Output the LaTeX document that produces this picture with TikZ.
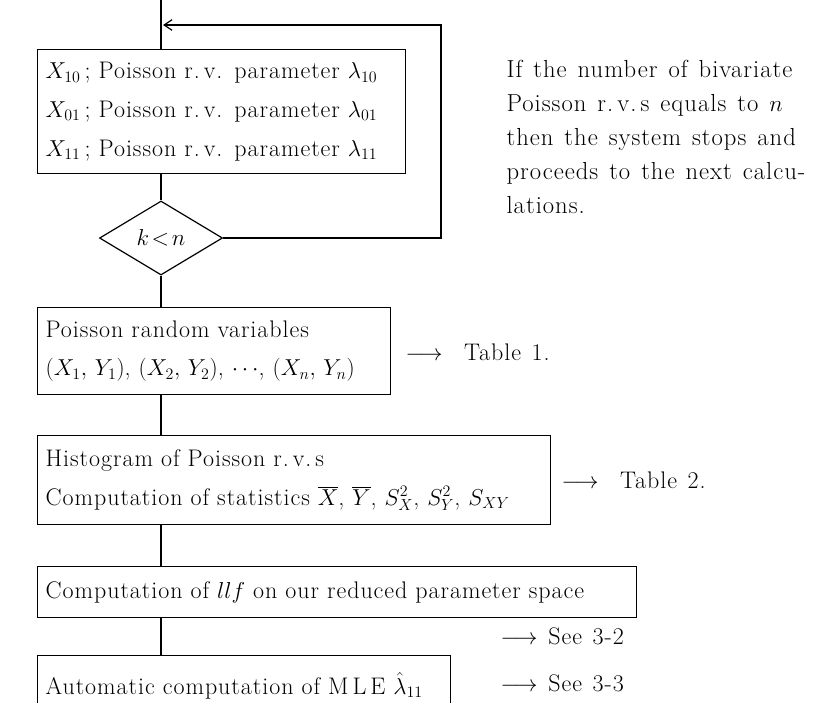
\documentclass[tikz,border=0pt]{standalone}
\usepackage{fontspec}
\setmainfont{Latin Modern Roman}[LetterSpace=4, WordSpace=1.3]
\usetikzlibrary{shapes.geometric,arrows.meta}

\tikzset{every picture/.style={line width=0.9pt}}
\tikzset{
  box/.style={draw, anchor=north west, inner xsep=6pt, inner ysep=0pt, align=left, font=\fontsize{18}{29}\selectfont},
  decide/.style={draw, diamond, minimum width=92.25pt, minimum height=55.5pt, inner sep=0pt, font=\fontsize{18}{22}\selectfont},
  note/.style={anchor=west, inner sep=0pt, font=\fontsize{18}{22}\selectfont}
}

\begin{document}
\begin{tikzpicture}[x=0.75pt,y=0.75pt,yscale=-1,xscale=1]
\useasboundingbox (0,0) rectangle (819,703);
\clip (0,0) rectangle (819,703);

%Shapes
\node [box, text width=264pt, minimum height=93pt] (gen) at (37,49) {\mbox{$X_{10}$\,; Poisson r.\,v. parameter $\lambda_{10}$}\\\mbox{$X_{01}$\,; Poisson r.\,v. parameter $\lambda_{01}$}\\\mbox{$X_{11}$\,; Poisson r.\,v. parameter $\lambda_{11}$}};
\node [decide] (test) at (161,238) {$k\!<\!n$};
\node [box, text width=252.75pt, minimum height=65.25pt] (pois) at (37,307) {\mbox{Poisson random variables}\\\mbox{$(X_1,\,Y_1)$, $(X_2,\,Y_2)$, $\cdots$, $(X_n,\,Y_n)$}};
\node [box, text width=372.75pt, minimum height=66.75pt] (hist) at (37,435) {\mbox{Histogram of Poisson r.\,v.\,s}\\\mbox{Computation of statistics $\overline{X}$, $\overline{Y}$, $S_X^2$, $S_Y^2$, $S_{XY}$}};
\node [box, text width=437.25pt, minimum height=38.25pt] (llf) at (37,566) {\mbox{Computation of $llf$ on our reduced parameter space}};
\node [box, text width=297.75pt, minimum height=45pt] (mle) at (37,655) {\mbox{Automatic computation of M\,L\,E $\hat{\lambda}_{11}$}};

% Text Node
\node [anchor=north west, inner sep=0pt, align=left, font=\fontsize{18.5}{25.5}\selectfont] (rule) at (506,60) {\mbox{If the number of bivariate}\\\mbox{Poisson r.\,v.\,s equals to $n$}\\\mbox{then the system stops and}\\\mbox{proceeds to the next calcu-}\\\mbox{lations.}};
\node [note] (tab1) at (405,352) {$\longrightarrow$\ \ Table 1.};
\node [note] (tab2) at (561,480) {$\longrightarrow$\ \ Table 2.};
\node [note] (see2) at (500,636) {$\longrightarrow$\ See 3-2};
\node [note] (see3) at (500,683) {$\longrightarrow$\ See 3-3};

%Straight Lines
\coordinate (start) at (161,0);
\coordinate (back) at (163,25);
\coordinate (turn) at (441,25);
\draw (start) -- (gen.north -| start);
\draw (gen.south -| test) -- (test.north);
\draw (test.south) -- (pois.north -| test);
\draw (pois.south -| test) -- (hist.north -| test);
\draw (hist.south -| test) -- (llf.north -| test);
\draw (llf.south -| test) -- (mle.north -| test);
\draw [-{Straight Barb[length=6pt,width=8pt]}] (test.east) -| (turn) -- (back);

\end{tikzpicture}
\end{document}
